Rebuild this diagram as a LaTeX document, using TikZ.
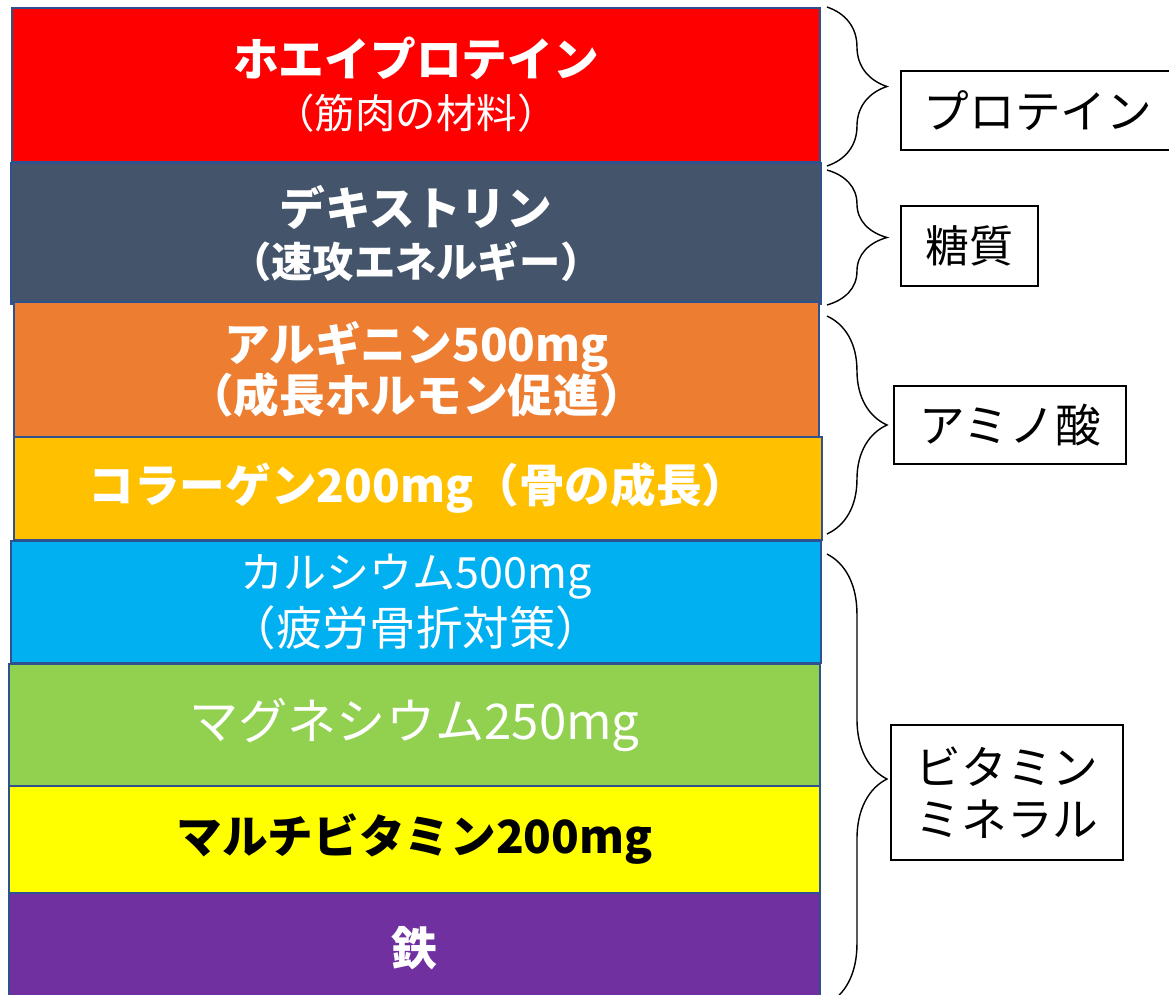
\documentclass[tikz,border=0pt]{standalone}
\usepackage{fontspec}
\setmainfont{Noto Sans CJK JP}
\usetikzlibrary{calc,decorations.pathreplacing}

\definecolor{edgeblue}{HTML}{2F528F}
\definecolor{wheyred}{HTML}{FF0000}
\definecolor{slate}{HTML}{44546A}
\definecolor{argorange}{HTML}{ED7D31}
\definecolor{gold}{HTML}{FFC000}
\definecolor{calblue}{HTML}{00B0F0}
\definecolor{leaf}{HTML}{92D050}
\definecolor{lemon}{HTML}{FFFF00}
\definecolor{ironpurple}{HTML}{7030A0}

\begin{document}
\begin{tikzpicture}[x=0.02cm,y=-0.02cm,
	dims/.style 2 args={minimum width=#1*0.02cm, minimum height=#2*0.02cm},
	layer/.style={draw=edgeblue, line width=1.1pt, inner sep=0pt, align=center, text=white,
		font=\fontsize{26}{29.5}\selectfont},
	tag/.style={draw=black, line width=1.1pt, inner sep=0pt, align=center,
		font=\fontsize{26}{29.5}\selectfont},
	curly/.style={decorate, decoration={brace, amplitude=1.2cm}, line width=0.8pt}]
	\useasboundingbox (0,0) rectangle (1169,994);

	\node[layer, fill=wheyred, dims={808}{154}] (whey) at (416,85)
		{{\bfseries ホエイプロテイン}\\{\fontsize{23}{29.5}\selectfont （筋肉の材料）}};
	\node[layer, fill=slate, dims={810}{141}] (dextrin) at (416,233.5)
		{{\bfseries デキストリン}\\{\fontsize{23.5}{29.5}\selectfont\bfseries （速攻エネルギー）}};
	\node[layer, fill=argorange, dims={805}{135}] (arginine) at (416.5,369.5)
		{{\bfseries アルギニン500mg}\\{\bfseries （成長ホルモン促進）}};
	\node[layer, fill=gold, dims={808}{103}] (collagen) at (418,488.5)
		{\bfseries コラーゲン200mg（骨の成長）};
	\node[layer, fill=calblue, dims={810}{122}] (calcium) at (416,602)
		{{\fontsize{24.5}{29.5}\selectfont カルシウム500mg}\\[3pt]{\fontsize{26.5}{29.5}\selectfont （疲労骨折対策）}};
	\node[layer, fill=leaf, dims={811}{122}] (magnesium) at (414.5,725)
		{\fontsize{28}{32}\selectfont マグネシウム250mg};
	\node[layer, fill=lemon, dims={811}{107}, text=black] (multi) at (414.5,839.5)
		{\bfseries マルチビタミン200mg};
	\node[layer, fill=ironpurple, dims={811}{110}] (iron) at (414.5,948)
		{\bfseries 鉄};

	\node[tag, dims={274}{79}] (protein) at (1038,110.5) {プロテイン};
	\node[tag, dims={137}{80}] (sugar) at (969.5,246) {\fontsize{25}{29.5}\selectfont 糖質};
	\node[tag, dims={232}{78}] (amino) at (1010,425) {アミノ酸};
	\node[tag, dims={232}{135}] (vitamin) at (1007,792.5) {ビタミン\\ミネラル};

	\draw[curly] ($(whey.north east)+(6,0)$) -- ($(whey.south east)+(6,3)$);
	\draw[curly] ($(dextrin.north east)+(5,8)$) -- ($(dextrin.south east)+(5,0)$);
	\draw[curly] ($(arginine.north east)+(7,15)$) -- ($(collagen.south east)+(4,-7)$);
	\draw[curly] ($(calcium.north east)+(5,14)$) -- ($(iron.south east)+(6,0)$);
\end{tikzpicture}
\end{document}
